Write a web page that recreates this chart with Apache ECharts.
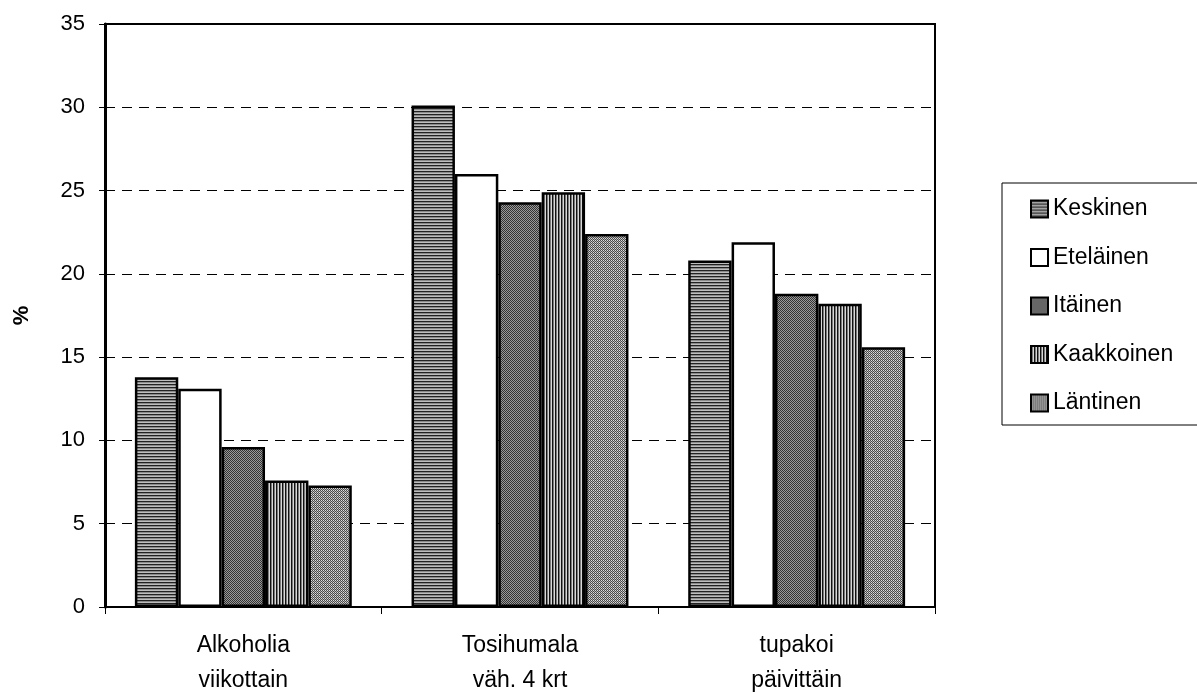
<!DOCTYPE html>
<html><head><meta charset="utf-8">
<script src="https://cdn.jsdelivr.net/npm/echarts@6/dist/echarts.min.js"></script>
<style>html,body{margin:0;padding:0;background:#fff}#c{width:1197px;height:693px}</style>
</head><body><div id="c"></div>
<script>
const categories = ['Alkoholia\nviikottain', 'Tosihumala\nväh. 4 krt', 'tupakoi\npäivittäin'];
const seriesNames = ['Keskinen', 'Eteläinen', 'Itäinen', 'Kaakkoinen', 'Läntinen'];
const keskinen   = [13.8, 30.1, 20.8];
const etelainen  = [13.1, 26.0, 21.9];
const itainen    = [9.6, 24.3, 18.8];
const kaakkoinen = [7.6, 24.9, 18.2];
const lantinen   = [7.3, 22.4, 15.6];
const yTicks = [0, 5, 10, 15, 20, 25, 30, 35];
const values = [keskinen, etelainen, itainen, kaakkoinen, lantinen];

function pat(w, h, fn) {
  const c = document.createElement('canvas');
  c.width = w; c.height = h;
  const g = c.getContext('2d');
  for (let y = 0; y < h; y++) for (let x = 0; x < w; x++) {
    g.fillStyle = fn(x, y); g.fillRect(x, y, 1, 1);
  }
  return { image: c, repeat: 'repeat' };
}
const fills = [
  pat(4, 3, (x, y) => y === 0 ? '#222' : (y === 1 ? '#8a8a8a' : '#bdbdbd')),
  '#ffffff',
  pat(2, 2, (x, y) => ((x + y) % 2 === 0) ? '#333' : '#9a9a9a'),
  pat(3, 4, (x, y) => x === 0 ? '#111' : (x === 1 ? '#7a7a7a' : '#d8d8d8')),
  pat(4, 4, (x, y) => ((x + y) % 2 === 0) ? '#4a4a4a' : ((x % 2 === 0) ? '#b0b0b0' : '#dcdcdc'))
];

const chart = echarts.init(document.getElementById('c'), null, { renderer: 'canvas' });
chart.setOption({
  animation: false,
  backgroundColor: '#fff',
  grid: { left: 105, right: 262, top: 24, bottom: 86, containLabel: false, outerBoundsMode: 'none',
    show: true, borderColor: '#000', borderWidth: 2, backgroundColor: 'transparent' },
  legend: {
    orient: 'vertical', left: 1002, top: 183,
    data: seriesNames,
    itemWidth: 17, itemHeight: 17, itemGap: 24.5,
    borderColor: '#000', borderWidth: 1,
    padding: [14, 60, 10, 28],
    textStyle: { fontFamily: 'Liberation Sans', fontSize: 23, lineHeight: 24, color: '#000' },
    icon: 'rect'
  },
  xAxis: {
    type: 'category', data: categories,
    axisLine: { lineStyle: { color: '#000', width: 2 } },
    axisTick: { show: true, length: 7, lineStyle: { color: '#000', width: 1 } },
    axisLabel: { fontFamily: 'Liberation Sans', fontSize: 23, color: '#000', margin: 21, lineHeight: 35 }
  },
  yAxis: {
    type: 'value', min: 0, max: 35, interval: 5,
    name: '%', nameLocation: 'middle', nameGap: 72, nameRotate: 90,
    nameTextStyle: { fontFamily: 'Liberation Sans', fontSize: 22, fontWeight: 'bold', color: '#000' },
    axisLine: { show: true, lineStyle: { color: '#000', width: 3 } },
    axisTick: { show: true, length: 6, lineStyle: { color: '#000' } },
    axisLabel: { fontFamily: 'Liberation Sans', fontSize: 22, color: '#000', margin: 20,
      formatter: v => yTicks.includes(v) ? String(v) : '' },
    splitLine: { show: true, lineStyle: { color: '#000', width: 1.2, type: [10, 7] } }
  },
  series: seriesNames.map((n, i) => ({
    name: n, type: 'bar', data: values[i],
    barGap: '0%', barCategoryGap: '21.6%',
    itemStyle: { color: fills[i], borderColor: '#000', borderWidth: 2.5 }
  }))
});
</script></body></html>
